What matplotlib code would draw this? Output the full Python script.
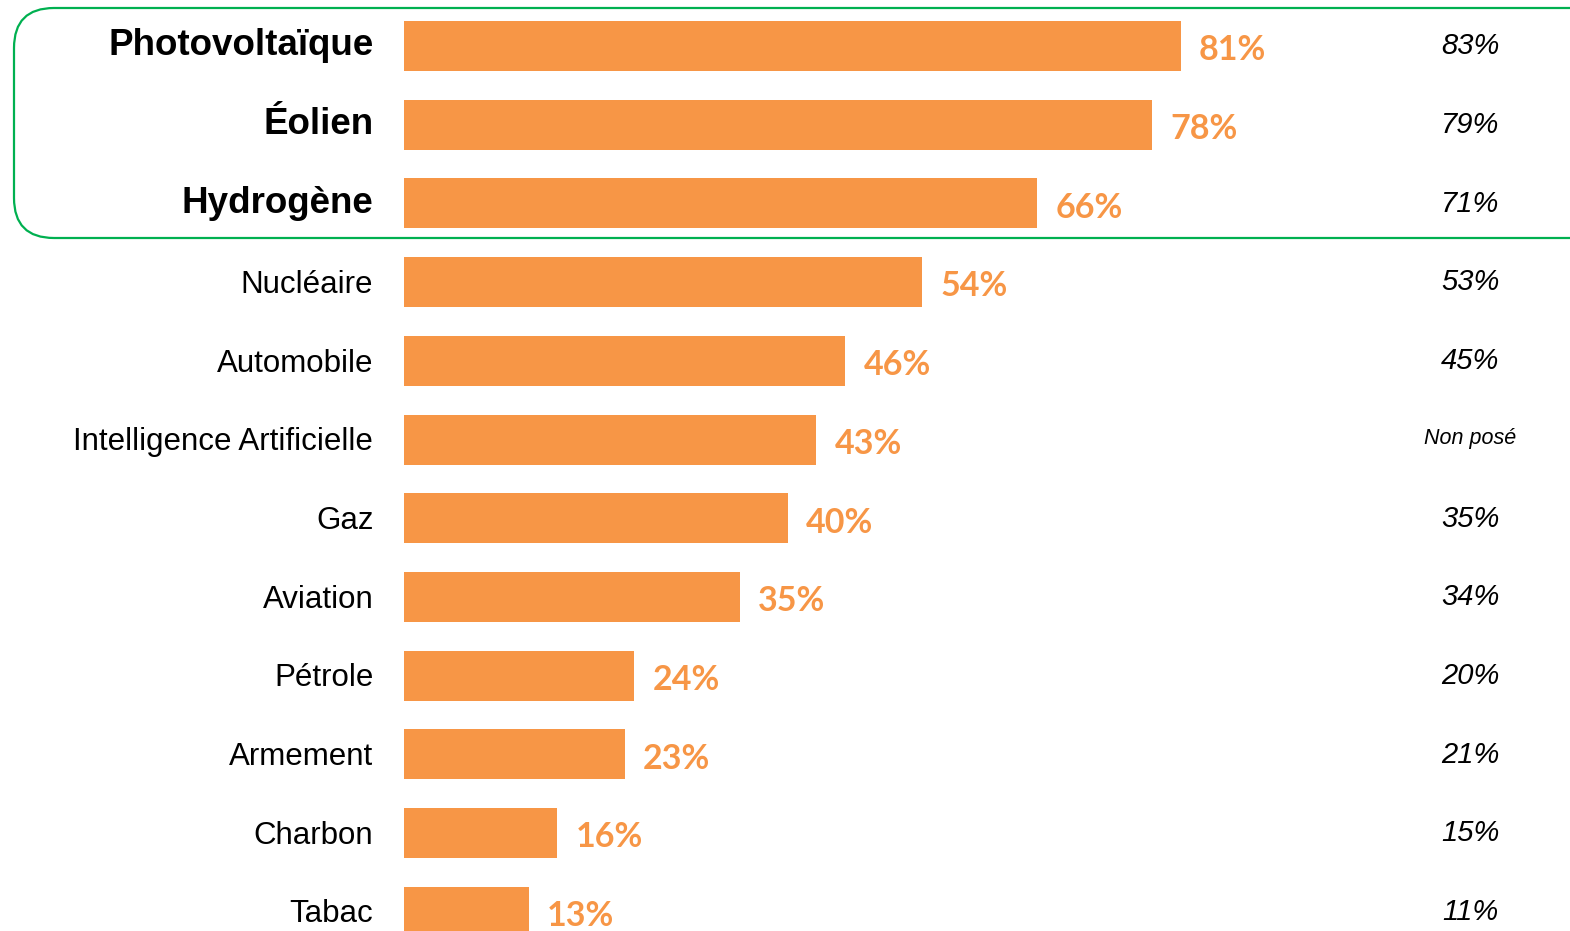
import matplotlib
matplotlib.use("Agg")
import matplotlib.pyplot as plt
from matplotlib.patches import FancyBboxPatch
from matplotlib.transforms import IdentityTransform

# data
secteurs = ["Photovoltaïque", "Éolien", "Hydrogène", "Nucléaire", "Automobile",
            "Intelligence Artificielle", "Gaz", "Aviation", "Pétrole", "Armement",
            "Charbon", "Tabac"]
valeurs = [81, 78, 66, 54, 46, 43, 40, 35, 24, 23, 16, 13]
precedent = [83, 79, 71, 53, 45, None, 35, 34, 20, 21, 15, 11]
n_gras = 3  # top rows highlighted in the green box

orange = "#F79646"
vert = "#00B050"

W, H = 1570, 931
fig = plt.figure(figsize=(W / 100, H / 100), dpi=100)
ax = fig.add_axes([0, 0, 1, 1])

px_per_unit = 9.59    # pixels per percent
x0 = 404              # pixel where bars start
row_h = 78.7
y_first = 46
ax.set_xlim(-x0 / px_per_unit, (W - x0) / px_per_unit)
ax.set_ylim((H - y_first) / row_h, -y_first / row_h)
ax.axis("off")

rows = list(range(len(secteurs)))
ax.barh(rows, valeurs, height=50 / row_h, left=0, color=orange)

for i, (nom, v, p) in enumerate(zip(secteurs, valeurs, precedent)):
    if i < n_gras:
        ax.text(-3.2, i - 0.005, nom, ha="right", va="center", fontsize=26.5,
                fontweight="bold", family="Liberation Sans")
    else:
        ax.text(-3.2, i + 0.035, nom, ha="right", va="center", fontsize=22.5,
                family="Liberation Sans")
    ax.text(v + 1.9, i + 0.055, f"{v}%", ha="left", va="center", fontsize=24.5,
            fontweight="bold", color=orange, family="Lato")
    if p is None:
        ax.text(111.2, i - 0.01, "Non posé", ha="center", va="center",
                fontsize=15.5, style="italic", family="Liberation Sans")
    else:
        ax.text(111.2, i + 0.005, f"{p}%", ha="center", va="center",
                fontsize=21, style="italic", family="Liberation Sans")

# rounded green frame around the highlighted rows (pixel coordinates)
box = FancyBboxPatch((14, H - 238), 1600, 230,
                     boxstyle="round,pad=0,rounding_size=40",
                     fill=False, edgecolor=vert, linewidth=1.6,
                     transform=IdentityTransform())
fig.patches.append(box)

fig.savefig("out.png", dpi=100)
